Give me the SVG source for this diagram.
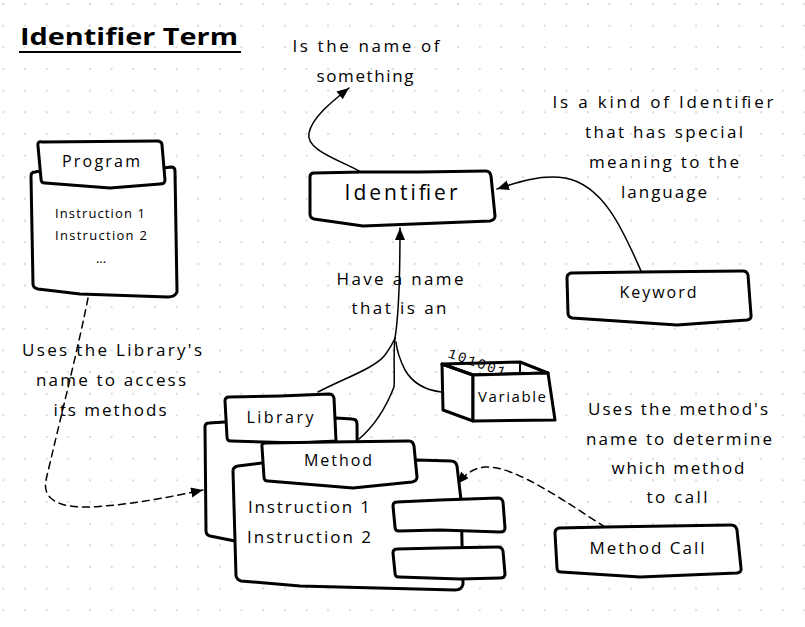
<svg xmlns="http://www.w3.org/2000/svg" width="805" height="627" viewBox="0 0 805 627">
<defs>
<pattern id="dots" x="-7.4" y="-6.8" width="21.65" height="21.65" patternUnits="userSpaceOnUse">
<circle cx="10.8" cy="10.8" r="1" fill="#cfcfcf"/>
</pattern>
<marker id="ah" markerWidth="14" markerHeight="12" refX="12" refY="5" orient="auto" markerUnits="userSpaceOnUse">
<path d="M0,0 L12,5 L0,10 Z" fill="#000"/>
</marker>
<style>
.t{font-family:"Open Sans","Liberation Sans",sans-serif;fill:#000;font-weight:500;}
.a{font-size:17px;text-anchor:middle;}
.n{fill:#fff;stroke:#000;stroke-width:3;stroke-linejoin:round;stroke-linecap:round;}
.c{fill:none;stroke:#000;stroke-width:1.5;stroke-linecap:round;}
.d{stroke-dasharray:7 5;}
</style>
</defs>
<rect width="805" height="627" fill="#fff"/>
<rect width="805" height="627" fill="url(#dots)"/>

<g id="title">
<text class="t" x="20" y="45" font-size="24" font-weight="bold" style="font-weight:bold" textLength="218" lengthAdjust="spacingAndGlyphs">Identifier Term</text>
<line x1="19" y1="52" x2="241" y2="52" stroke="#000" stroke-width="2.2"/>
</g>

<g id="labels">
<text class="t a" x="366" y="52" textLength="147">Is the name of</text>
<text class="t a" x="365" y="82" textLength="97">something</text>
<text class="t a" x="663" y="108" textLength="221">Is a kind of Identifier</text>
<text class="t a" x="664" y="138" textLength="158">that has special</text>
<text class="t a" x="664" y="168" textLength="150">meaning to the</text>
<text class="t a" x="664" y="198" textLength="86">language</text>
<text class="t a" x="400" y="285" textLength="127">Have a name</text>
<text class="t a" x="399" y="314" textLength="95">that is an</text>
<text class="t a" x="112" y="356" textLength="180">Uses the Library's</text>
<text class="t a" x="111" y="386" textLength="150">name to access</text>
<text class="t a" x="110" y="416" textLength="113">its methods</text>
<text class="t a" x="678" y="415" textLength="180">Uses the method's</text>
<text class="t a" x="679" y="445" textLength="186">name to determine</text>
<text class="t a" x="678" y="474" textLength="133">which method</text>
<text class="t a" x="677" y="503" textLength="61">to call</text>
</g>

<g id="connectors">
<path class="c" d="M361,172 C340,160 305,150 309,133 C312,118 330,103 349,88" marker-end="url(#ah)"/>
<path class="c" d="M641,271 C625,235 605,185 565,178 C540,174 515,183 497,189" marker-end="url(#ah)"/>
<path class="c" d="M395,338 C398,320 400,290 400,228" marker-end="url(#ah)"/>
<path class="c" d="M318,392 C345,378 375,368 385,355 C390,348 393,343 395,338"/>
<path class="c" d="M359,439 C372,428 385,410 394,387 C395,375 393,355 395,338"/>
<path class="c" d="M441,392 C425,390 412,382 405,370 C400,360 397,352 396,342"/>
<path class="c d" d="M88,298 C80,340 60,420 46,480 C42,500 60,508 90,507 C130,505 170,497 203,490" marker-end="url(#ah)"/>
<path class="c d" d="M605,527 C570,505 515,465 485,467 C472,468 464,476 457,484" marker-end="url(#ah)"/>
</g>

<g id="program">
<path class="n" d="M41,171 L35,172 Q31,172 31,176 L33,284 Q33,288 38,289 L80,294 L168,297 Q175,297 177,292 L175,171 Q175,167 171,167 L164,168 Z"/>
<path class="n" d="M38,146 Q37,141 42,142 L157,141 Q162,141 162,145 L165,180 Q165,184 160,184 L110,188 L45,183 Q41,183 41,179 Z"/>
<text class="t" x="101" y="167" font-size="16" text-anchor="middle" textLength="78">Program</text>
<text class="t" x="100" y="218" font-size="13" text-anchor="middle" textLength="90">Instruction 1</text>
<text class="t" x="101" y="240" font-size="13" text-anchor="middle" textLength="92">Instruction 2</text>
<text class="t" x="101" y="263" font-size="13" text-anchor="middle">...</text>
</g>

<g id="identifier">
<path class="n" d="M314,173 Q310,173 310,177 L310,214 Q310,218 314,219 L363,226 L490,221 Q495,220 495,216 L491,176 Q490,171 486,171 L420,172 L363,172 Z"/>
<text class="t" x="401" y="200" font-size="21" text-anchor="middle" textLength="113">Identifier</text>
</g>

<g id="keyword">
<path class="n" d="M571,273 Q567,274 567,278 L568,313 Q568,317 572,318 L677,325 L747,320 Q752,319 751,315 L748,275 Q747,271 743,271 L640,272 Z"/>
<text class="t" x="658" y="298" font-size="16" text-anchor="middle" textLength="77">Keyword</text>
</g>

<g id="library">
<path class="n" d="M225,422 L209,423 Q205,423 205,427 L206,531 Q206,535 210,536 L240,542 L358,542 L357,424 Q357,419 352,419 L336,418 Z"/>
<path class="n" d="M229,397 Q225,397 225,401 L227,437 Q227,441 231,441 L300,443 L336,441 L334,398 Q333,394 329,394 L280,396 Z"/>
<text class="t" x="280" y="423" font-size="16" text-anchor="middle" textLength="67">Library</text>
</g>

<g id="method">
<path class="n" d="M262,463 L238,466 Q233,467 233,471 L236,576 Q237,580 241,581 L300,586 L455,590 Q462,590 463,584 L461,500 L457,466 Q456,461 451,461 L417,460 Z"/>
<path class="n" d="M266,443 Q261,443 262,447 L264,477 Q264,481 268,481 L353,488 L412,482 Q417,481 417,477 L414,446 Q413,441 409,441 L330,442 Z"/>
<text class="t" x="338" y="466" font-size="16" text-anchor="middle" textLength="68">Method</text>
<text class="t" x="248" y="513" font-size="17" textLength="122">Instruction 1</text>
<text class="t" x="247" y="543" font-size="17" textLength="124">Instruction 2</text>
<path class="n" d="M397,502 Q393,502 393,506 L395,527 Q395,531 399,531 L440,530 L500,532 Q505,532 505,528 L503,502 Q502,498 498,498 L440,500 Z"/>
<path class="n" d="M397,549 Q393,549 393,553 L395,573 Q395,577 399,577 L460,579 L500,578 Q505,578 505,574 L503,551 Q502,547 498,547 L440,548 Z"/>
</g>

<g id="variable">
<path class="n" d="M442,364 L443,410 L473,421 L473,375 Z"/>
<path class="n" d="M442,364 L520,362 L548,373 L473,375 Z" style="fill:none"/>
<text x="447" y="357" font-size="14" transform="rotate(19 447 357)" textLength="60" style="font-family:'Liberation Mono',monospace;fill:#000">101001</text>
<path class="n" d="M473,375 L548,373 L555,420 L473,421 Z"/>
<line x1="520" y1="362" x2="520" y2="373" stroke="#000" stroke-width="2"/>
<text class="t" x="512" y="402" font-size="15" text-anchor="middle" textLength="68">Variable</text>
</g>

<g id="methodcall">
<path class="n" d="M559,528 Q555,529 555,533 L557,568 Q557,572 561,572 L640,577 L737,573 Q742,572 741,568 L737,530 Q736,525 731,525 L605,527 Z"/>
<text class="t" x="647" y="554" font-size="17" text-anchor="middle" textLength="115">Method Call</text>
</g>
</svg>
